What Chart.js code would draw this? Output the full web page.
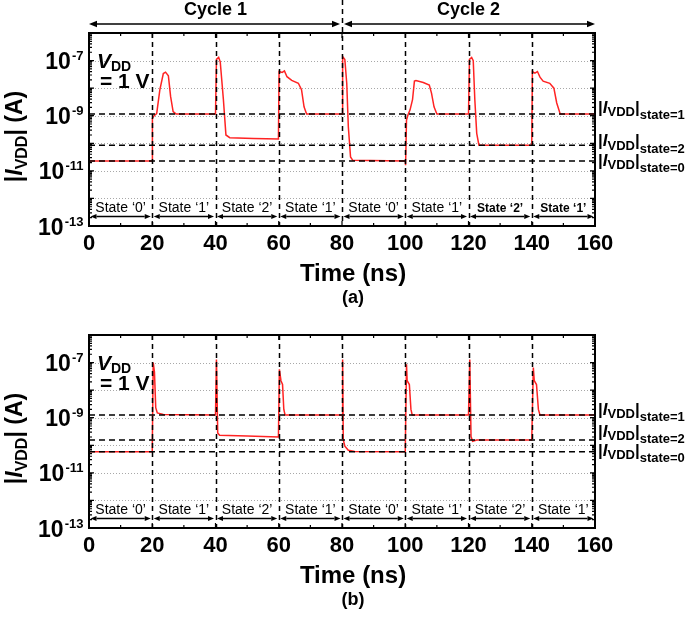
<!DOCTYPE html>
<html>
<head>
<meta charset="utf-8">
<script src="https://cdn.jsdelivr.net/npm/chart.js@4.4.1/dist/chart.umd.min.js"></script>
<style>
  body { margin: 0; background: #fff; }
  #wrap { position: relative; width: 685px; height: 617px; }
  canvas { position: absolute; left: 0; }
</style>
</head>
<body>
<div id="wrap">
  <canvas id="panelA" width="685" height="308" style="top:0px"></canvas>
  <canvas id="panelB" width="685" height="309" style="top:308px"></canvas>
</div>
<script>
"use strict";

// panel (a): time (ns) and |I_VDD| (A)
const timeA = [0, 20, 20.05, 20.6, 21.4, 22.4, 23.5, 24.2, 25.1, 25.8, 26.6, 27.5, 40,
  40.3, 41.0, 41.5, 42.5, 43.3, 44.5, 52, 59.9,
  60.1, 61.1, 61.8, 62.6, 64.1, 66.2, 67.2, 68.0, 68.8, 80,
  80.2, 80.9, 81.5, 82.0, 82.7, 83.4, 100,
  100.1, 100.4, 100.9, 101.5, 102.3, 102.9, 103.4, 105.7, 107.6, 108.3, 109.1, 110.0, 120,
  120.3, 121.0, 121.5, 122.0, 122.6, 123.3, 140,
  140.2, 141.0, 141.8, 142.6, 143.6, 145.7, 147.0, 147.9, 149.0, 160];
const iddA = [2.3e-11, 2.3e-11, 8e-10, 1e-9, 1.2e-9, 8.7e-9, 3.4e-8, 3.8e-8, 2.8e-8, 5e-9, 1.4e-9, 1.16e-9, 1.16e-9,
  1.1e-7, 1.3e-7, 9e-8, 3.8e-9, 2e-10, 1.6e-10, 1.5e-10, 1.42e-10,
  4e-8, 3.7e-8, 4.2e-8, 2.6e-8, 1.9e-8, 1.5e-8, 8.8e-9, 2.1e-9, 1.16e-9, 1.16e-9,
  1.4e-7, 1.1e-7, 1.5e-8, 4e-10, 3.2e-11, 2.4e-11, 2.3e-11,
  1.6e-11, 7e-10, 1.1e-9, 1.6e-9, 3.8e-9, 1.8e-8, 1.9e-8, 1.6e-8, 1.3e-8, 6.6e-9, 2.1e-9, 1.16e-9, 1.16e-9,
  1.1e-7, 1.3e-7, 1e-7, 3.8e-9, 2.3e-10, 8.5e-11, 8.5e-11,
  4e-8, 3.5e-8, 4e-8, 2.5e-8, 1.8e-8, 1.5e-8, 1e-8, 2.9e-9, 1.16e-9, 1.16e-9];

// panel (b)
const timeB = [0, 20, 20.3, 20.7, 21.1, 21.6, 23.5, 40,
  40.3, 40.7, 41.3, 50, 59.9,
  60.2, 60.7, 61.2, 61.6, 62.0, 80,
  80.2, 80.4, 80.9, 82.0, 84.0, 100,
  100.4, 100.6, 101.3, 101.8, 102.2, 120,
  120.4, 120.8, 121.3, 122.6, 140,
  140.5, 140.8, 141.5, 142.1, 142.6, 160];
const iddB = [5.8e-11, 5.8e-11, 1e-7, 4.5e-8, 2.3e-9, 1.5e-9, 1.3e-9, 1.26e-9,
  1.3e-7, 2.8e-10, 2.3e-10, 2.15e-10, 2e-10,
  5.7e-8, 2.2e-8, 1.6e-8, 2e-9, 1.26e-9, 1.26e-9,
  1.3e-7, 1.6e-10, 9.3e-11, 6.6e-11, 5.9e-11, 5.8e-11,
  8.7e-8, 2.2e-8, 1.6e-8, 2e-9, 1.26e-9, 1.26e-9,
  1.3e-7, 2.1e-10, 1.4e-10, 1.55e-10, 1.55e-10,
  6.6e-8, 2.2e-8, 1.6e-8, 2e-9, 1.26e-9, 1.26e-9];

// reference levels |I_VDD|state=1, 2, 0
const levelNames = ["1", "2", "0"];
const levelsA = [1.16e-9, 8.5e-11, 2.3e-11];
const levelsB = [1.26e-9, 1.56e-10, 5.8e-11];

const stateSeq = ["0", "1", "2", "1", "0", "1", "2", "1"];
const xTicks = [0, 20, 40, 60, 80, 100, 120, 140, 160];
const yExps = [-7, -9, -11, -13];
const cycleNames = ["Cycle 1", "Cycle 2"];

const FONT = "'Liberation Sans', Arial, sans-serif";
Chart.defaults.font.family = FONT;
Chart.defaults.color = "#000";

function f(style) { return style + " " + FONT; }

// draw text pieces one after another, [text, font, dy]
function runs(ctx, parts, x, y) {
  parts.forEach(([t, font, dy]) => {
    ctx.font = f(font);
    ctx.fillText(t, x, y + (dy || 0));
    x += ctx.measureText(t).width;
  });
  return x;
}
function runsWidth(ctx, parts) {
  let w = 0;
  parts.forEach(([t, font]) => { ctx.font = f(font); w += ctx.measureText(t).width; });
  return w;
}

function arrow2(ctx, x1, x2, y, h) {
  ctx.beginPath(); ctx.moveTo(x1 + h, y); ctx.lineTo(x2 - h, y); ctx.stroke();
  ctx.beginPath(); ctx.moveTo(x1, y); ctx.lineTo(x1 + h, y - h / 2.4); ctx.lineTo(x1 + h, y + h / 2.4); ctx.closePath(); ctx.fill();
  ctx.beginPath(); ctx.moveTo(x2, y); ctx.lineTo(x2 - h, y - h / 2.4); ctx.lineTo(x2 - h, y + h / 2.4); ctx.closePath(); ctx.fill();
}

function overlay(look) {
  return {
    id: "overlay",
    beforeDatasetsDraw(chart) {
      // dotted decade grid
      const { ctx, chartArea: a, scales: { y } } = chart;
      ctx.save();
      ctx.strokeStyle = "#a8a8a8";
      ctx.lineWidth = 1;
      ctx.setLineDash([1, 2]);
      y.ticks.forEach(t => {
        const py = Math.round(y.getPixelForValue(t.value)) + 0.5;
        ctx.beginPath(); ctx.moveTo(a.left, py); ctx.lineTo(a.right, py); ctx.stroke();
      });
      ctx.restore();
    },
    afterDatasetsDraw(chart) {
      const { ctx, chartArea: a, scales: { x } } = chart;
      ctx.save();
      ctx.strokeStyle = "#000";
      ctx.lineWidth = 1.5;
      ctx.setLineDash([5, 4]);
      xTicks.slice(1, -1).forEach(t => {
        const px = Math.round(x.getPixelForValue(t)) + 0.5;
        ctx.beginPath();
        ctx.moveTo(px, look.cycles && t === 80 ? 0 : a.top);
        ctx.lineTo(px, a.bottom);
        ctx.stroke();
      });
      ctx.restore();
    },
    afterDraw(chart) {
      const { ctx, chartArea: a, scales: { x, y } } = chart;
      ctx.save();
      ctx.fillStyle = "#000";
      ctx.strokeStyle = "#000";

      // frame
      ctx.lineWidth = 2;
      ctx.strokeRect(a.left, a.top, a.right - a.left, a.bottom - a.top);

      // inward ticks
      ctx.lineWidth = 1.2;
      ctx.beginPath();
      for (let e = -13; e <= -6; e++) {
        for (let m = 1; m < 10; m++) {
          if (e === -6 && m > 1) break;
          const py = y.getPixelForValue(m * Math.pow(10, e));
          const len = m === 1 ? 5 : 3;
          ctx.moveTo(a.left, py); ctx.lineTo(a.left + len, py);
          ctx.moveTo(a.right, py); ctx.lineTo(a.right - len, py);
        }
      }
      for (let t = 10; t < 160; t += 10) {
        const px = x.getPixelForValue(t);
        const len = t % 20 === 0 ? 5 : 3;
        ctx.moveTo(px, a.bottom); ctx.lineTo(px, a.bottom - len);
        ctx.moveTo(px, a.top); ctx.lineTo(px, a.top + len);
      }
      ctx.stroke();

      // y tick labels 10^n
      ctx.textAlign = "right";
      ctx.textBaseline = "alphabetic";
      yExps.forEach(e => {
        const py = y.getPixelForValue(Math.pow(10, e));
        ctx.font = f("bold 13px");
        const s = String(e);
        const w = ctx.measureText(s).width;
        ctx.fillText(s, 83.5, py - 0.5);
        ctx.font = f("bold 23px");
        ctx.fillText("10", 83.5 - w - 1.2, py + 8.5);
      });
      ctx.textAlign = "left";

      // y axis title
      const yTitle = [["|", "bold 23px"], ["I", "italic bold 23px"], ["VDD", "bold 16px", 5], ["| (A)", "bold 23px"]];
      ctx.save();
      ctx.translate(22, (a.top + a.bottom) / 2 + 7);
      ctx.rotate(-Math.PI / 2);
      runs(ctx, yTitle, -runsWidth(ctx, yTitle) / 2, 0);
      ctx.restore();

      // x axis title and panel tag
      const cx = (a.left + a.right) / 2 + 11;
      ctx.textAlign = "center";
      ctx.textBaseline = "middle";
      ctx.font = f("bold 24px");
      ctx.fillText("Time (ns)", cx, a.bottom + 48);
      ctx.font = f("bold 18px");
      ctx.fillText(look.tag, cx, a.bottom + 72);

      // state labels with double arrows
      ctx.lineWidth = 1.3;
      stateSeq.forEach((s, k) => {
        const x1 = x.getPixelForValue(xTicks[k]);
        const x2 = x.getPixelForValue(xTicks[k + 1]);
        arrow2(ctx, x1 + 1.5, x2 - 1.5, a.bottom - 9.5, 6);
        ctx.textBaseline = "alphabetic";
        ctx.font = f(look.stateFont(k));
        ctx.fillText("State \u2018" + s + "\u2019", (x1 + x2) / 2, a.bottom - 14);
      });

      // level labels on the right
      ctx.textAlign = "left";
      look.levels.forEach((v, i) => {
        const py = y.getPixelForValue(v) + look.lvlDy[i];
        runs(ctx, [["|", "bold 17px"], ["I", "italic bold 17px"], ["VDD", "bold 13px", 3.5],
          ["|", "bold 17px"], ["state=" + levelNames[i], "bold 13px", 6.5]], 598, py);
      });

      // V_DD = 1 V
      runs(ctx, [["V", "italic bold 21px"], ["DD", "bold 14px", 3]], 97, a.top + 35);
      runs(ctx, [["= 1 V", "bold 21px"]], 100, a.top + 55);

      // cycle markers
      if (look.cycles) {
        ctx.lineWidth = 1.5;
        const xm = x.getPixelForValue(80);
        arrow2(ctx, x.getPixelForValue(0), xm - 2, 24, 8);
        arrow2(ctx, xm + 2, x.getPixelForValue(160), 24, 8);
        ctx.textAlign = "center";
        ctx.textBaseline = "middle";
        ctx.font = f("bold 18px");
        ctx.fillText(cycleNames[0], x.getPixelForValue(40), 10);
        ctx.fillText(cycleNames[1], x.getPixelForValue(120), 10);
      }
      ctx.restore();
    }
  };
}

function makePanel(id, times, idd, look) {
  const levelSets = look.levels.map(v => ({
    data: [{ x: xTicks[0], y: v }, { x: xTicks[xTicks.length - 1], y: v }],
    borderColor: "#000",
    borderWidth: 1.5,
    borderDash: [6, 4],
    pointRadius: 0,
    order: 0,
  }));
  return new Chart(document.getElementById(id), {
    type: "line",
    data: {
      datasets: [
        {
          data: times.map((t, i) => ({ x: t, y: idd[i] })),
          borderColor: "#ff2323",
          borderWidth: 1.5,
          pointRadius: 0,
          tension: 0,
          order: 1,
        },
        ...levelSets,
      ],
    },
    options: {
      responsive: false,
      animation: false,
      events: [],
      layout: { padding: { top: look.top, right: 90, left: 0, bottom: 0 } },
      plugins: { legend: { display: false }, tooltip: { enabled: false } },
      scales: {
        x: {
          type: "linear",
          min: 0,
          max: 160,
          afterFit: (s) => { s.height = look.xh; },
          grid: { display: false },
          border: { display: false },
          ticks: { stepSize: 20, maxRotation: 0, padding: -3, color: "#000", font: { size: 22, weight: "bold" } },
        },
        y: {
          type: "logarithmic",
          min: 1e-13,
          max: 1e-6,
          afterFit: (s) => { s.width = 89; },
          afterBuildTicks: (s) => {
            const t = [];
            for (let e = -13; e <= -6; e++) t.push({ value: Math.pow(10, e) });
            s.ticks = t;
          },
          grid: { display: false },
          border: { display: false },
          ticks: { display: false },
        },
      },
    },
    plugins: [overlay(look)],
  });
}

makePanel("panelA", timeA, iddA, {
  tag: "(a)", top: 33, xh: 82, cycles: true, levels: levelsA, lvlDy: [-1, 1, 5],
  stateFont: (k) => (k >= 6 ? "bold 12px" : "14px"),
});
makePanel("panelB", timeB, iddB, {
  tag: "(b)", top: 27, xh: 89, cycles: false, levels: levelsB, lvlDy: [0, -3, 4],
  stateFont: () => "14px",
});
</script>
</body>
</html>
